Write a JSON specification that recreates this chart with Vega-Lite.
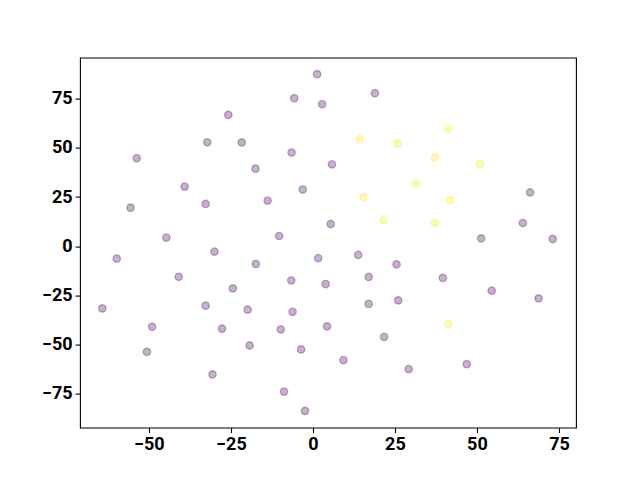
{
  "$schema": "https://vega.github.io/schema/vega-lite/v6.json",
  "width": 496,
  "height": 370,
  "autosize": {"type": "none"},
  "padding": {"left": 80, "top": 57.6, "right": 64, "bottom": 53},
  "background": "white",
  "config": {
    "view": {"stroke": "black", "strokeWidth": 1.1},
    "axis": {
      "labelFont": "Roboto",
      "labelFontWeight": "bold",
      "labelFontSize": 18,
      "labelColor": "black",
      "tickColor": "black",
      "tickSize": 4.9,
      "tickWidth": 1.1,
      "domain": false,
      "grid": false,
      "labelPadding": 3,
      "title": null
    }
  },
  "data": {
    "values": [
      {"x": -25.8, "y": 66.7, "c": 0},
      {"x": -32.2, "y": 52.8, "c": 0},
      {"x": -21.7, "y": 52.7, "c": 0},
      {"x": -53.7, "y": 44.7, "c": 0},
      {"x": -39.1, "y": 30.3, "c": 0},
      {"x": -32.7, "y": 21.5, "c": 0},
      {"x": -55.6, "y": 19.6, "c": 0},
      {"x": -44.7, "y": 4.4, "c": 0},
      {"x": 1.3, "y": 87.4, "c": 0},
      {"x": -5.7, "y": 75.2, "c": 0},
      {"x": 2.8, "y": 72.2, "c": 0},
      {"x": 18.9, "y": 77.7, "c": 0},
      {"x": 14.3, "y": 54.5, "c": 1},
      {"x": 25.8, "y": 52.2, "c": 1},
      {"x": -6.5, "y": 47.6, "c": 0},
      {"x": 5.8, "y": 41.6, "c": 0},
      {"x": -17.5, "y": 39.4, "c": 0},
      {"x": -3.1, "y": 28.8, "c": 0},
      {"x": 15.4, "y": 24.9, "c": 1},
      {"x": -13.8, "y": 23.2, "c": 0},
      {"x": 21.6, "y": 13.0, "c": 1},
      {"x": 5.4, "y": 11.3, "c": 0},
      {"x": -10.3, "y": 5.2, "c": 0},
      {"x": 41.3, "y": 59.6, "c": 1},
      {"x": 37.2, "y": 45.1, "c": 1},
      {"x": 50.9, "y": 41.8, "c": 1},
      {"x": 31.4, "y": 31.8, "c": 1},
      {"x": 66.2, "y": 27.3, "c": 0},
      {"x": 41.8, "y": 23.3, "c": 1},
      {"x": 37.1, "y": 11.7, "c": 1},
      {"x": 64.0, "y": 11.8, "c": 0},
      {"x": 51.3, "y": 4.0, "c": 0},
      {"x": 73.1, "y": 3.7, "c": 0},
      {"x": -30.0, "y": -2.7, "c": 0},
      {"x": -59.8, "y": -6.3, "c": 0},
      {"x": -40.9, "y": -15.5, "c": 0},
      {"x": -24.4, "y": -21.4, "c": 0},
      {"x": -64.2, "y": -31.6, "c": 0},
      {"x": -32.7, "y": -30.2, "c": 0},
      {"x": -19.9, "y": -32.2, "c": 0},
      {"x": -49.0, "y": -40.9, "c": 0},
      {"x": -27.7, "y": -41.9, "c": 0},
      {"x": -19.3, "y": -50.4, "c": 0},
      {"x": -50.6, "y": -53.6, "c": 0},
      {"x": -30.6, "y": -65.1, "c": 0},
      {"x": -17.4, "y": -9.0, "c": 0},
      {"x": 1.6, "y": -6.0, "c": 0},
      {"x": 13.8, "y": -4.4, "c": 0},
      {"x": 25.5, "y": -9.2, "c": 0},
      {"x": -6.6, "y": -17.3, "c": 0},
      {"x": 3.9, "y": -19.2, "c": 0},
      {"x": 17.0, "y": -15.6, "c": 0},
      {"x": -6.2, "y": -33.3, "c": 0},
      {"x": 17.0, "y": -29.3, "c": 0},
      {"x": 26.0, "y": -27.5, "c": 0},
      {"x": -9.8, "y": -42.2, "c": 0},
      {"x": 4.3, "y": -40.7, "c": 0},
      {"x": 21.7, "y": -46.0, "c": 0},
      {"x": -3.6, "y": -52.4, "c": 0},
      {"x": 9.3, "y": -57.8, "c": 0},
      {"x": 29.2, "y": -62.4, "c": 0},
      {"x": -8.8, "y": -73.8, "c": 0},
      {"x": -2.4, "y": -83.6, "c": 0},
      {"x": 39.6, "y": -16.1, "c": 0},
      {"x": 54.5, "y": -22.6, "c": 0},
      {"x": 68.8, "y": -26.5, "c": 0},
      {"x": 41.3, "y": -39.4, "c": 1},
      {"x": 46.9, "y": -59.9, "c": 0}
    ]
  },
  "mark": {"type": "circle", "size": 54, "fillOpacity": 0.3, "strokeOpacity": 0.3, "strokeWidth": 1.4},
  "encoding": {
    "x": {
      "field": "x", "type": "quantitative",
      "scale": {"domain": [-71.0, 80.2], "nice": false, "zero": false},
      "axis": {"values": [-50, -25, 0, 25, 50, 75], "labelExpr": "replace(datum.label, '-', '−')"}
    },
    "y": {
      "field": "y", "type": "quantitative",
      "scale": {"domain": [-92.1, 95.8], "nice": false, "zero": false},
      "axis": {"values": [-75, -50, -25, 0, 25, 50, 75], "labelExpr": "replace(datum.label, '-', '−')"}
    },
    "color": {
      "field": "c", "type": "nominal",
      "scale": {"domain": [0, 1], "range": ["#440154", "#fde725"]},
      "legend": null
    },
    "stroke": {
      "field": "c", "type": "nominal",
      "scale": {"domain": [0, 1], "range": ["#440154", "#fde725"]},
      "legend": null
    }
  }
}
